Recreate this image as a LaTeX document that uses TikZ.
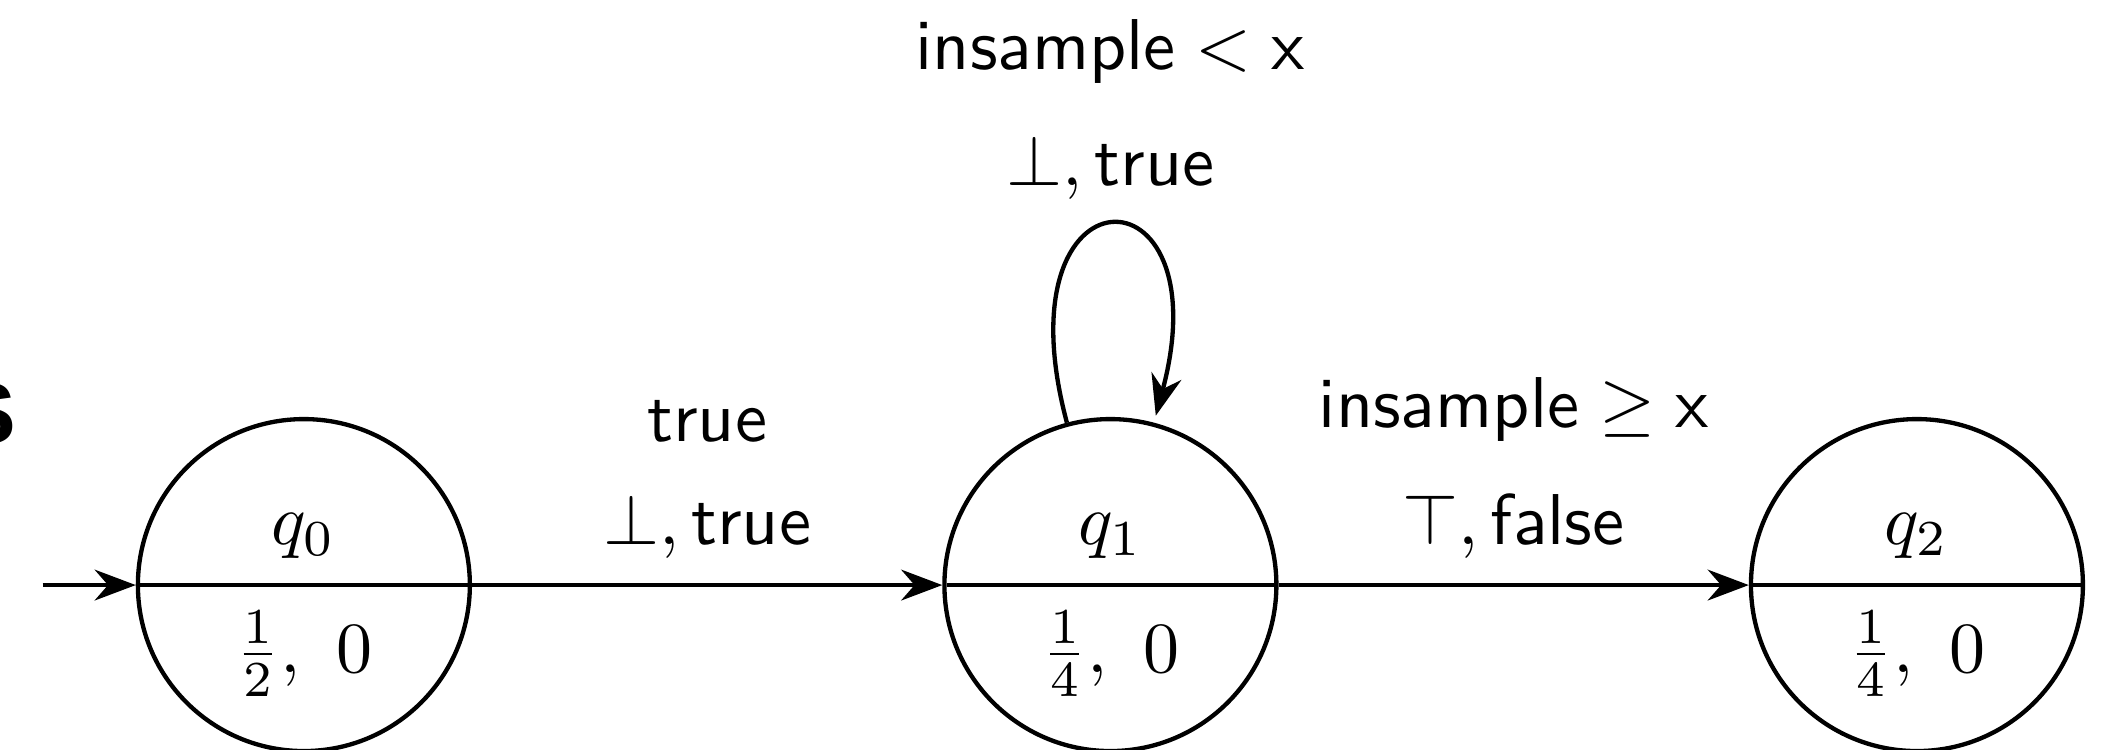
\documentclass[tikz,border=0pt]{standalone}
\usepackage{amsmath}
\usepackage{amssymb}
\usepackage{fontspec}
\newfontfamily\sidefont{Liberation Sans}
\usetikzlibrary{automata, shapes.multipart, arrows.meta}

\begin{document}
\begin{tikzpicture}[semithick, >={Stealth}, initial text={},
                splitstate/.style={state, circle split, minimum size=46.1pt, inner sep=3.33pt}]
                \useasboundingbox (-42.2pt,-22.9pt) rectangle (249.7pt,81.25pt);
                \clip (-42.2pt,-22.9pt) rectangle (249.7pt,81.25pt);

                \node[anchor=base east, inner sep=0pt, font={\sidefont\bfseries\fontsize{12}{14}\selectfont}] (side) at (-39.6pt,19.6pt) {S};

                \node[splitstate, initial] (q0) at (0pt,0pt) {$q_0$ \nodepart{lower} $\frac{1}{2},\ 0$};
                \node[splitstate] (q1) at (112pt,0pt) {$q_1$ \nodepart{lower} $\frac{1}{4},\ 0$};
                \node[splitstate] (q2) at (224pt,0pt) {$q_2$ \nodepart{lower} $\frac{1}{4},\ 0$};

                \path[->] (q0) edge node[above, label=above:{$\mathsf{true}$}] {$\bot, \mathsf{true}$} (q1)
                          (q1) edge[loop above] node[above, label=above:{$\mathsf{insample} < \mathsf{x}$}] {$\bot, \mathsf{true}$} ()
                          (q1) edge node[above, label=above:{$\mathsf{insample} \geq \mathsf{x}$}] {$\top, \mathsf{false}$} (q2);
\end{tikzpicture}
\end{document}
